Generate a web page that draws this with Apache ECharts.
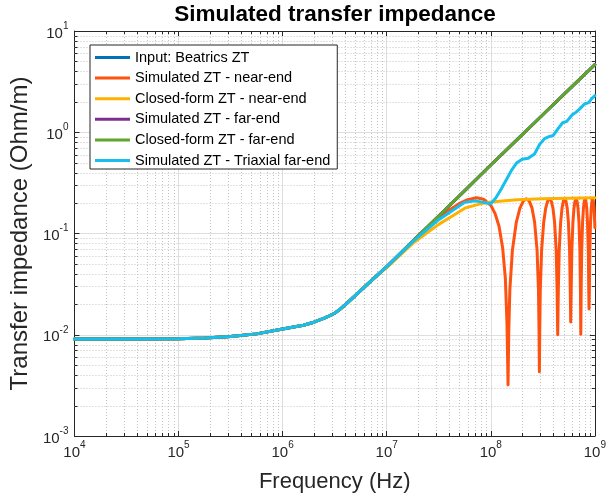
<!DOCTYPE html>
<html><head><meta charset="utf-8">
<script src="https://cdn.jsdelivr.net/npm/echarts@6/dist/echarts.min.js"></script>
<style>html,body{margin:0;padding:0;background:#fff}#c{width:609px;height:499px}</style>
</head><body><div id="c"></div>
<script>
const seriesNames = ['Input: Beatrics ZT','Simulated ZT - near-end','Closed-form ZT - near-end','Simulated ZT - far-end','Closed-form ZT - far-end','Simulated ZT - Triaxial far-end'];
const seriesColors = ['#0072BD','#FF5210','#FFB100','#7E2F8E','#5FA62A','#17BFEE'];

// Input / far-end (closed form and simulated) curve
const baseF = [1e4,3.16e4,1e5,1.78e5,3.16e5,5.62e5,1e6,1.58e6,2e6,2.51e6,2.82e6,3.16e6,3.55e6,3.98e6,5.01e6,6.31e6,7.94e6,1e7,1.78e7,3.16e7,5.62e7,1e8,1.78e8,3.16e8,5.62e8,1e9];
const baseZ = [0.0091,0.0091,0.00915,0.0093,0.0096,0.0102,0.0114,0.0124,0.0133,0.0146,0.0154,0.0163,0.0178,0.0197,0.0245,0.0305,0.038,0.047,0.084,0.149,0.265,0.475,0.84,1.49,2.64,4.65];

// Closed-form near-end
const nearCfF = [1e4,3.16e4,1e5,1.78e5,3.16e5,5.62e5,1e6,1.58e6,2e6,2.51e6,2.82e6,3.16e6,3.55e6,3.98e6,5.01e6,6.31e6,7.94e6,1e7,1.78e7,3.16e7,4.47e7,5.62e7,7.76e7,1e8,1.78e8,3.16e8,1e9];
const nearCfZ = [0.0091,0.0091,0.00915,0.0093,0.0096,0.0102,0.0114,0.0124,0.0133,0.0146,0.0154,0.0163,0.0178,0.0197,0.0245,0.0305,0.0378,0.046,0.080,0.123,0.153,0.178,0.195,0.205,0.215,0.22,0.225];

// Simulated near-end
const nearSimF = [1e4,3.16e4,1e5,1.78e5,3.16e5,5.62e5,1e6,1.58e6,2e6,2.51e6,2.82e6,3.16e6,3.55e6,3.98e6,5.01e6,6.31e6,7.94e6,1e7,2e7,3e7,4e7,5e7,6e7,7.3e7,8.5e7,1e8,1.1e8,1.2e8,1.3e8,1.38e8,1.43e8,1.465e8,
 1.487e8,1.524e8,1.612e8,1.758e8,1.905e8,2.051e8,2.198e8,2.344e8,2.491e8,2.637e8,2.784e8,2.871e8,2.908e8,2.93e8,
 2.952e8,2.989e8,3.077e8,3.223e8,3.37e8,3.516e8,3.663e8,3.809e8,3.956e8,4.102e8,4.249e8,4.336e8,4.395e8,
 4.454e8,4.542e8,4.688e8,4.835e8,4.981e8,5.128e8,5.274e8,5.421e8,5.567e8,5.714e8,5.801e8,5.86e8,
 5.919e8,6.007e8,6.153e8,6.3e8,6.446e8,6.593e8,6.739e8,6.886e8,7.032e8,7.179e8,7.266e8,7.325e8,
 7.384e8,7.472e8,7.618e8,7.765e8,7.911e8,8.058e8,8.204e8,8.351e8,8.497e8,8.644e8,8.731e8,8.79e8,
 8.849e8,8.937e8,9.083e8,9.23e8,9.376e8,9.523e8,9.67e8,9.816e8,9.962e8,1e9];
const nearSimZ = [0.0091,0.0091,0.00915,0.0093,0.0096,0.0102,0.0114,0.0124,0.0133,0.0146,0.0154,0.0163,0.0178,0.0197,0.0245,0.0305,0.038,0.047,0.094,0.135,0.171,0.198,0.216,0.225,0.218,0.19,0.157,0.118,0.072,0.036,0.013,0.0032,
 0.0104,0.0276,0.068,0.129,0.178,0.209,0.22,0.209,0.178,0.129,0.068,0.0276,0.0104,0.0043,
 0.0104,0.0276,0.068,0.129,0.178,0.209,0.22,0.209,0.178,0.129,0.068,0.0276,0.010,
 0.0276,0.068,0.129,0.178,0.209,0.22,0.209,0.178,0.129,0.068,0.0276,0.0134,
 0.0276,0.068,0.129,0.178,0.209,0.22,0.209,0.178,0.129,0.068,0.0276,0.0101,
 0.0276,0.068,0.129,0.178,0.209,0.22,0.209,0.178,0.129,0.068,0.0276,0.018,
 0.0276,0.068,0.129,0.178,0.209,0.22,0.209,0.178,0.129,0.114];

// Simulated triaxial far-end
const triaxF = [1e4,3.16e4,1e5,1.78e5,3.16e5,5.62e5,1e6,1.58e6,2e6,2.51e6,2.82e6,3.16e6,3.55e6,3.98e6,5.01e6,6.31e6,7.94e6,1e7,1.78e7,3.16e7,5.62e7,7.08e7,8.5e7,1e8,1.12e8,1.26e8,1.41e8,1.58e8,1.78e8,2.0e8,2.29e8,2.63e8,2.95e8,3.31e8,3.63e8,3.98e8,4.47e8,4.9e8,5.37e8,6.03e8,6.61e8,7.24e8,7.94e8,8.71e8,9.33e8,1e9];
const triaxZ = [0.0091,0.0091,0.00915,0.0093,0.0096,0.0102,0.0114,0.0124,0.0133,0.0146,0.0154,0.0163,0.0178,0.0197,0.0245,0.0305,0.038,0.047,0.083,0.137,0.203,0.21,0.203,0.197,0.225,0.275,0.34,0.42,0.50,0.54,0.553,0.61,0.76,0.87,0.905,0.93,1.1,1.24,1.28,1.48,1.58,1.72,1.9,1.96,2.15,2.3];

const xTickExp = [4,5,6,7,8,9];
const yTickExp = [-3,-2,-1,0,1];

const zip = (f, z) => f.map((v, i) => [v, z[i]]);
const seriesData = [zip(baseF, baseZ), zip(nearSimF, nearSimZ), zip(nearCfF, nearCfZ), zip(baseF, baseZ), zip(baseF, baseZ), zip(triaxF, triaxZ)];

const xMinor = [], yMinor = [];
for (let e = xTickExp[0]; e < xTickExp[xTickExp.length - 1]; e++) for (let m = 2; m <= 9; m++) xMinor.push(m * Math.pow(10, e));
for (let e = yTickExp[0]; e < yTickExp[yTickExp.length - 1]; e++) for (let m = 2; m <= 9; m++) yMinor.push(m * Math.pow(10, e));

const FONT = "'Liberation Sans', Arial, Helvetica, sans-serif";
const TXT = '#262626';
const fmt = v => '{b|10}{s|' + Math.round(Math.log10(v)) + '}';
const rich = {
  b: {fontSize: 15, lineHeight: 20, verticalAlign: 'bottom', color: TXT, fontFamily: FONT},
  s: {fontSize: 10, lineHeight: 12, verticalAlign: 'top', color: TXT, fontFamily: FONT}
};

const chart = echarts.init(document.getElementById('c'), null, {renderer: 'canvas'});
const lineSeries = seriesNames.map((n, i) => ({
  name: n, type: 'line', data: seriesData[i], showSymbol: false, symbol: 'none',
  xAxisIndex: 0, yAxisIndex: 0, z: 3 + i, silent: true,
  lineStyle: {width: 3, color: seriesColors[i], cap: 'round', join: 'round'},
  itemStyle: {color: seriesColors[i]}
}));

const axisCommon = {
  type: 'log', logBase: 10,
  axisLine: {show: true, lineStyle: {color: TXT, width: 1}},
  axisTick: {show: true, inside: true, length: 5, lineStyle: {color: TXT}},
  minorTick: {show: false}
};

chart.setOption({
  animation: false,
  backgroundColor: '#fff',
  textStyle: {fontFamily: FONT},
  grid: {left: 73, right: 13, top: 31, bottom: 63, containLabel: false},
  graphic: [{type: 'text', z: 10, style: {text: 'Simulated transfer impedance', x: 335, y: 15, textAlign: 'center', textVerticalAlign: 'middle', font: 'bold 22.5px ' + FONT, fill: '#000'}}],
  legend: {
    orient: 'vertical', left: 90, top: 45, data: seriesNames, selectedMode: false,
    icon: 'rect', itemWidth: 35, itemHeight: 3, itemGap: 5.6,
    padding: [5, 7, 1, 5], backgroundColor: '#fff', borderColor: TXT, borderWidth: 1,
    textStyle: {fontSize: 14.5, lineHeight: 15, color: '#000', fontFamily: FONT}, z: 20
  },
  xAxis: [
    Object.assign({}, axisCommon, {
      position: 'bottom', min: 1e4, max: 1e9,
      name: 'Frequency (Hz)', nameLocation: 'middle', nameGap: 35,
      nameTextStyle: {fontSize: 22, color: TXT, fontFamily: FONT},
      axisLabel: {formatter: fmt, rich: rich, margin: 4},
      splitLine: {show: true, lineStyle: {color: '#dedede', width: 1}}
    }),
    Object.assign({}, axisCommon, {
      position: 'top', min: 1e4, max: 1e9,
      axisLabel: {show: false}, splitLine: {show: false}
    })
  ],
  yAxis: [
    Object.assign({}, axisCommon, {
      position: 'left', min: 1e-3, max: 1e1,
      name: 'Transfer impedance (Ohm/m)', nameLocation: 'middle', nameGap: 42, nameRotate: 90,
      nameTextStyle: {fontSize: 24, color: TXT, fontFamily: FONT},
      axisLabel: {formatter: fmt, rich: rich, margin: 6},
      splitLine: {show: true, lineStyle: {color: '#dedede', width: 1}}
    }),
    Object.assign({}, axisCommon, {
      position: 'right', min: 1e-3, max: 1e1,
      axisLabel: {show: false}, splitLine: {show: false}
    })
  ],
  series: [
    {
      type: 'custom', name: 'xminor', silent: true, z: 1, xAxisIndex: 0, yAxisIndex: 0,
      data: xMinor.map(v => [v, 1]),
      renderItem: function (params, api) {
        const cs = params.coordSys;
        const px = Math.round(api.coord([api.value(0), 1])[0]) + 0.5;
        const top = cs.y, bot = cs.y + cs.height;
        return {type: 'group', children: [
          {type: 'line', shape: {x1: px, y1: top, x2: px, y2: bot}, style: {stroke: '#c4c4c4', lineWidth: 1, lineDash: [1, 2]}},
          {type: 'line', shape: {x1: px, y1: bot, x2: px, y2: bot - 3}, style: {stroke: TXT, lineWidth: 1}},
          {type: 'line', shape: {x1: px, y1: top, x2: px, y2: top + 3}, style: {stroke: TXT, lineWidth: 1}}
        ]};
      }
    },
    {
      type: 'custom', name: 'yminor', silent: true, z: 1, xAxisIndex: 0, yAxisIndex: 0,
      data: yMinor.map(v => [1e6, v]),
      renderItem: function (params, api) {
        const cs = params.coordSys;
        const py = Math.round(api.coord([1e6, api.value(1)])[1]) + 0.5;
        const l = cs.x, r = cs.x + cs.width;
        return {type: 'group', children: [
          {type: 'line', shape: {x1: l, y1: py, x2: r, y2: py}, style: {stroke: '#c4c4c4', lineWidth: 1, lineDash: [1, 2]}},
          {type: 'line', shape: {x1: l, y1: py, x2: l + 3, y2: py}, style: {stroke: TXT, lineWidth: 1}},
          {type: 'line', shape: {x1: r, y1: py, x2: r - 3, y2: py}, style: {stroke: TXT, lineWidth: 1}}
        ]};
      }
    }
  ].concat(lineSeries)
});
</script></body></html>
